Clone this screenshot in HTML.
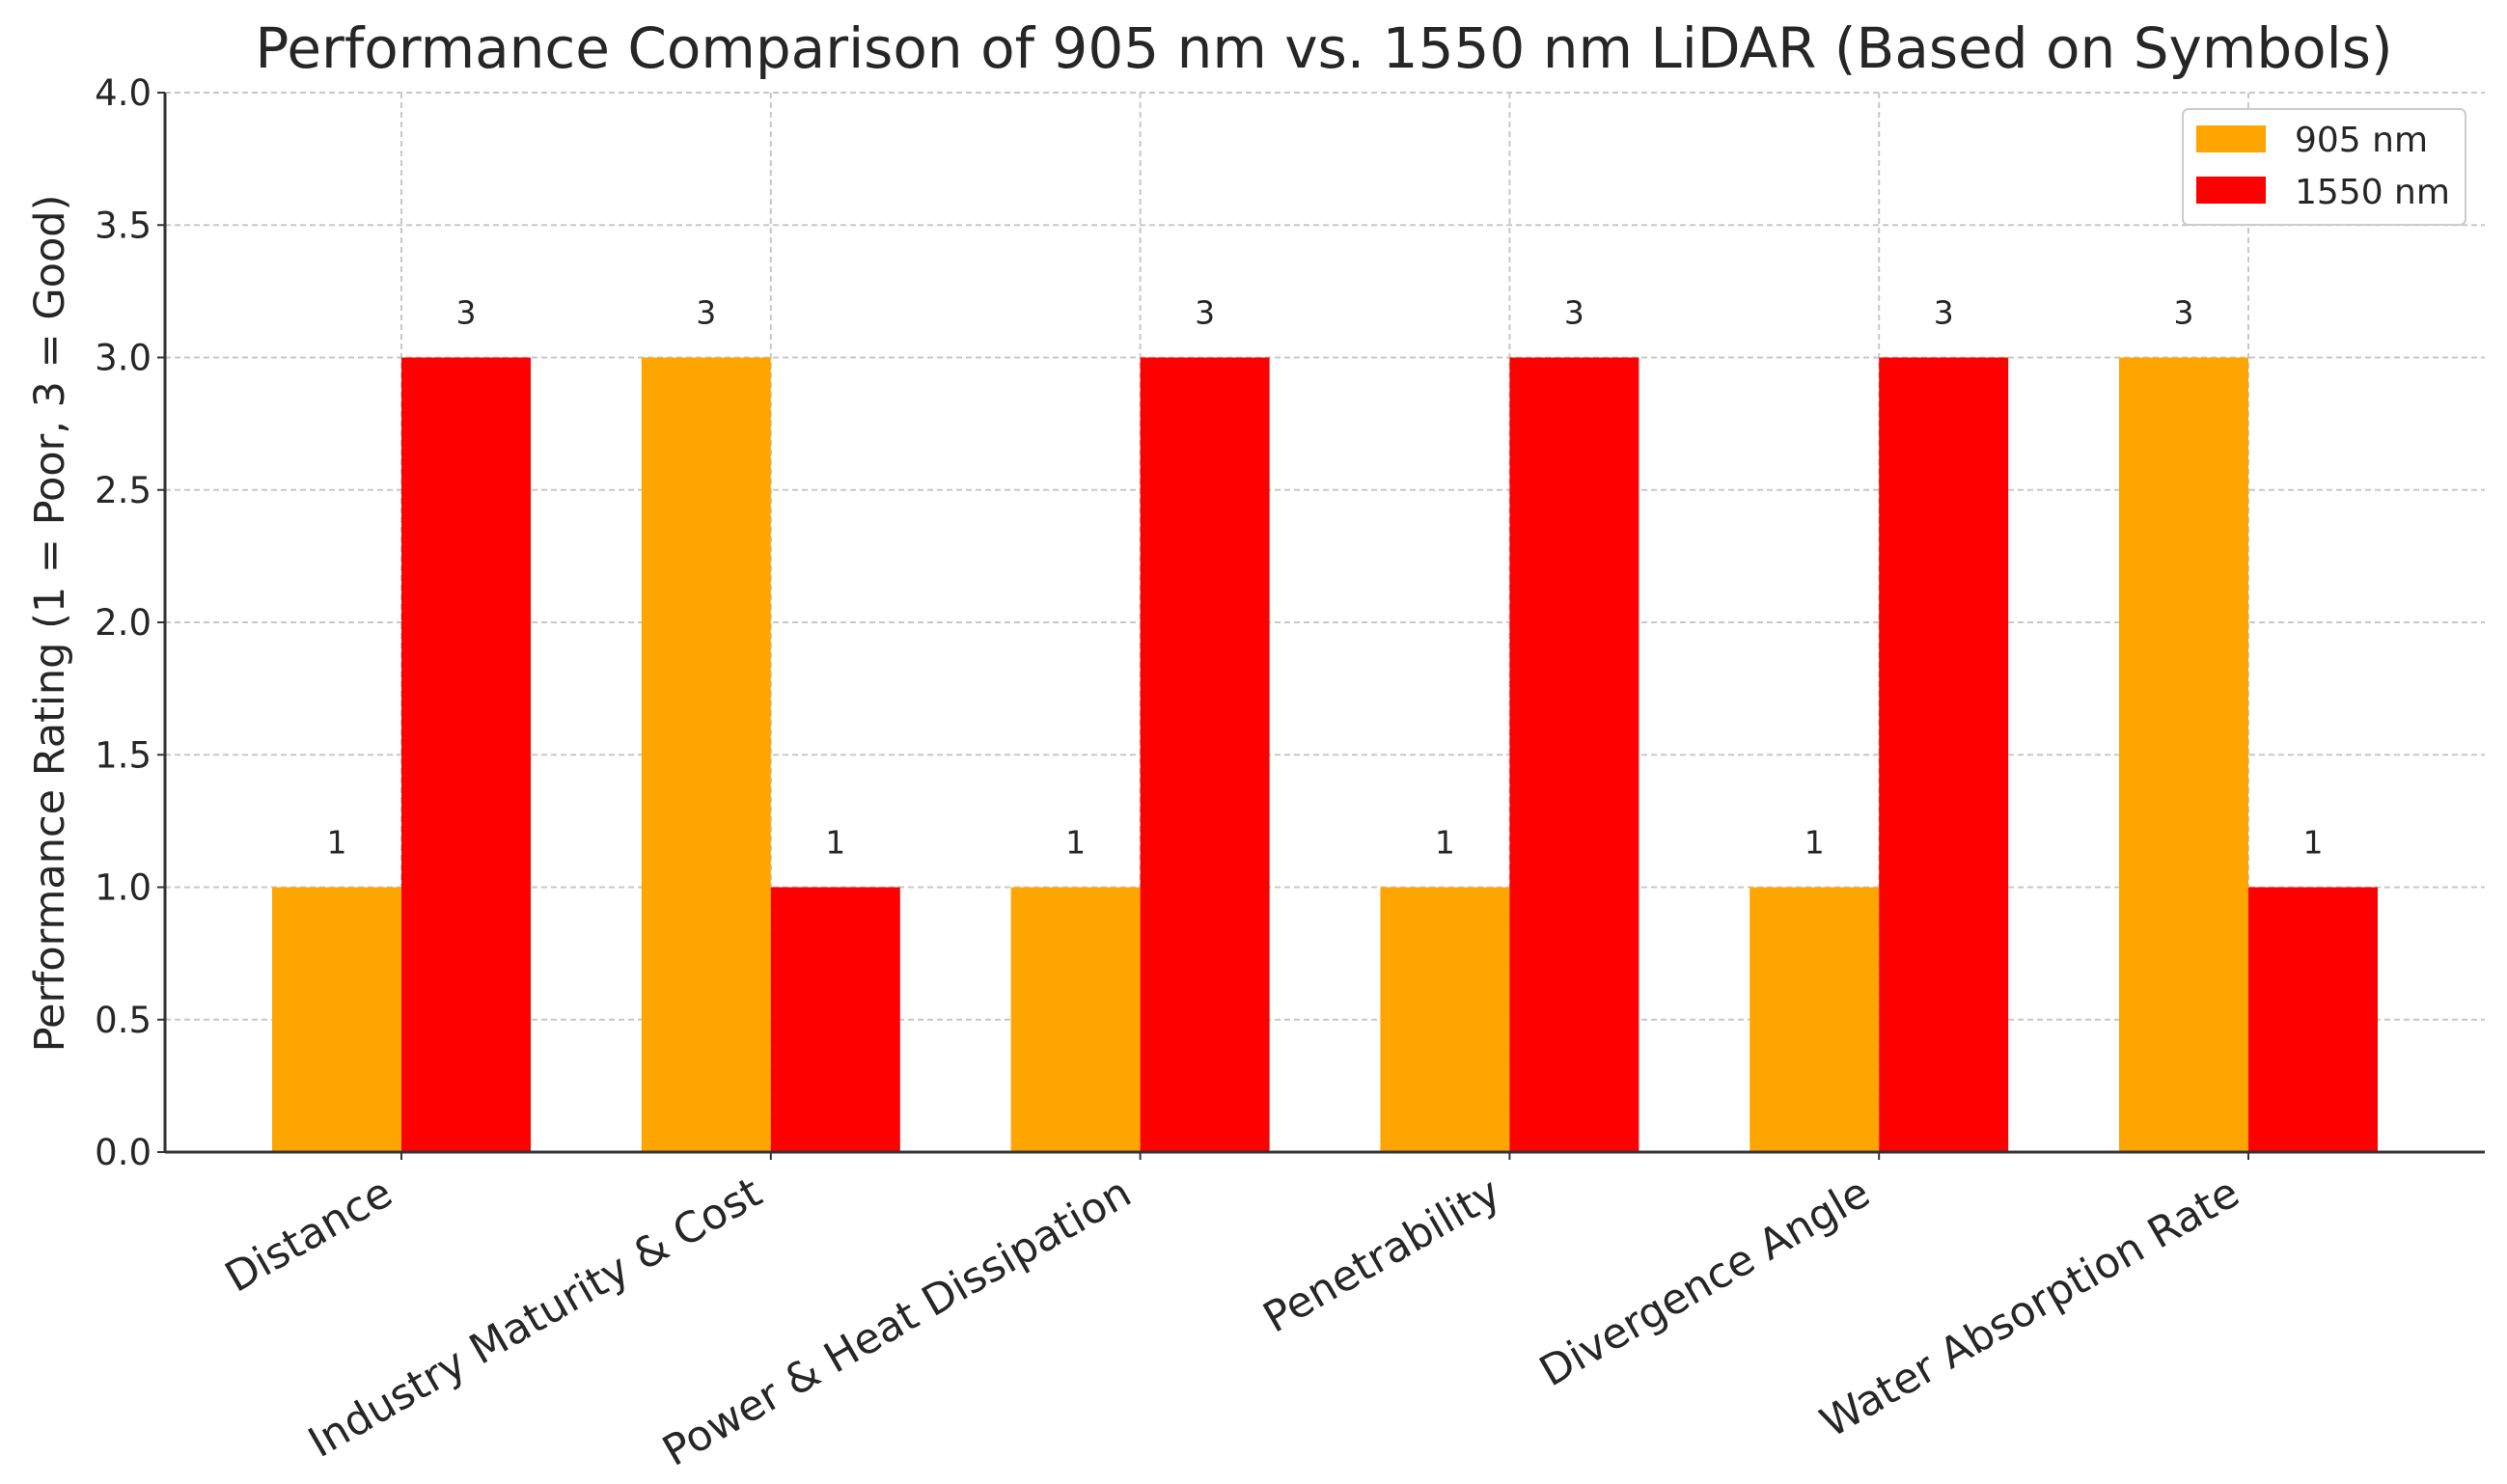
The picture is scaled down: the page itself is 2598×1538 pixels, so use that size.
<!DOCTYPE html>
<html><head><meta charset="utf-8"><style>
html,body{margin:0;padding:0;background:#fff;}
svg text{font-family:"DejaVu Sans","Liberation Sans",sans-serif;fill:#262626;}
</style></head><body>
<svg id="chart" width="2598" height="1533" xmlns="http://www.w3.org/2000/svg">
<g id="grid"></g>
<g id="bars"></g>
<g id="axes"></g>
<text x="1372" y="70" text-anchor="middle" font-size="58">Performance Comparison of 905 nm vs. 1550 nm LiDAR (Based on Symbols)</text>
<text transform="translate(66,646) rotate(-90)" text-anchor="middle" font-size="43">Performance Rating (1 = Poor, 3 = Good)</text>
<g>
<rect x="2262" y="113" width="293" height="120" rx="6" fill="#fff" stroke="#ccc" stroke-width="2"/>
<rect x="2276" y="130" width="72" height="28" fill="#FFA500"/>
<text x="2378" y="157" font-size="36">905 nm</text>
<rect x="2276" y="183" width="72" height="28" fill="#FF0000"/>
<text x="2378" y="211" font-size="36">1550 nm</text>
</g>
</svg>
<script>
const categories = ["Distance","Industry Maturity & Cost","Power & Heat Dissipation","Penetrability","Divergence Angle","Water Absorption Rate"];
const series905 = [1,3,1,1,1,3];
const series1550 = [3,1,3,3,3,1];
const yTicks = [0,0.5,1,1.5,2,2.5,3,3.5,4];
const yTickLabels = ["0.0","0.5","1.0","1.5","2.0","2.5","3.0","3.5","4.0"];

const NS="http://www.w3.org/2000/svg";
const pLeft=171,pRight=2575,pTop=96,pBottom=1194;
const xmin=-0.64,xmax=5.64,ymin=0,ymax=4;
const barW=0.35;
function xs(v){return pLeft+(v-xmin)/(xmax-xmin)*(pRight-pLeft);}
function ys(v){return pBottom-(v-ymin)/(ymax-ymin)*(pBottom-pTop);}
function mk(tag,attrs,parent){const e=document.createElementNS(NS,tag);for(const k in attrs)e.setAttribute(k,attrs[k]);parent.appendChild(e);return e;}
const grid=document.getElementById('grid'),bars=document.getElementById('bars'),axes=document.getElementById('axes');

yTicks.forEach((t,i)=>{
  const g=mk('line',{x1:pLeft,x2:pRight,y1:ys(t),y2:ys(t),stroke:'#c8c8c8','stroke-width':2,'stroke-dasharray':'6,4'},grid);
  
  
  const tk=mk('line',{x1:pLeft-8,x2:pLeft,y1:ys(t),y2:ys(t),stroke:'#333','stroke-width':2},axes);
  
  
  const lb=mk('text',{x:pLeft-14,y:ys(t)+13,'text-anchor':'end','font-size':37},axes);
  lb.textContent=yTickLabels[i];
  
  
});
categories.forEach((c,i)=>{
  const g=mk('line',{x1:xs(i),x2:xs(i),y1:pTop,y2:pBottom,stroke:'#c8c8c8','stroke-width':2,'stroke-dasharray':'6,4'},grid);
  
  
  const b1=mk('rect',{x:xs(i-barW),y:ys(series905[i]),width:xs(i)-xs(i-barW),height:ys(0)-ys(series905[i]),fill:'#FFA500'},bars);
  
  
  const b2=mk('rect',{x:xs(i),y:ys(series1550[i]),width:xs(i+barW)-xs(i),height:ys(0)-ys(series1550[i]),fill:'#FF0000'},bars);
  
  
  const v1=mk('text',{x:xs(i-barW/2),y:ys(series905[i])-35,'text-anchor':'middle','font-size':33},bars);
  v1.textContent=series905[i];
  
  
  const v2=mk('text',{x:xs(i+barW/2),y:ys(series1550[i])-35,'text-anchor':'middle','font-size':33},bars);
  v2.textContent=series1550[i];
  
  
  const tk=mk('line',{x1:xs(i),x2:xs(i),y1:pBottom,y2:pBottom+8,stroke:'#333','stroke-width':2},axes);
  
  
  const lb=mk('text',{transform:`translate(${xs(i)-22},${pBottom+24}) rotate(-30)`,'text-anchor':'end','font-size':43.5,'dominant-baseline':'hanging'},axes);
  lb.textContent=c;
  
  
});
const ya=mk('line',{x1:pLeft,x2:pLeft,y1:pTop,y2:pBottom,stroke:'#333','stroke-width':3},axes);


const xa=mk('line',{x1:pLeft,x2:pRight,y1:pBottom,y2:pBottom,stroke:'#333','stroke-width':3},axes);


</script>
</body></html>
